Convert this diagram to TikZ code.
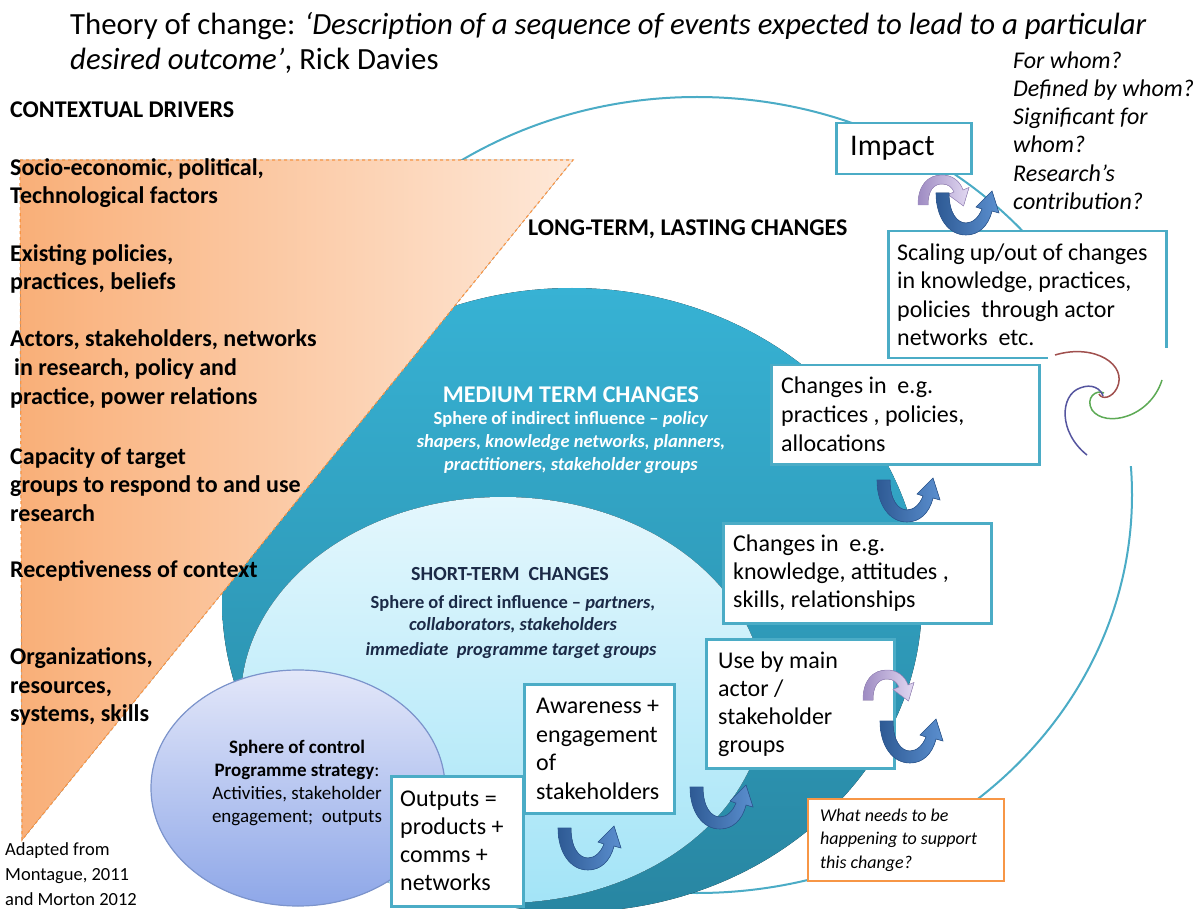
\documentclass[tikz,border=0pt]{standalone}
\usepackage{fontspec}
\setmainfont{Carlito}
\usetikzlibrary{calc}
\definecolor{tealline}{HTML}{4BACC6}
\definecolor{tealtop}{HTML}{37B2D4}
\definecolor{tealbot}{HTML}{2886A2}
\definecolor{lighttop}{HTML}{E4F7FD}
\definecolor{lightbot}{HTML}{A3E4F7}
\definecolor{soctop}{HTML}{E3E7F9}
\definecolor{socbot}{HTML}{8EA7E8}
\definecolor{socline}{HTML}{7C94CC}
\definecolor{orL}{HTML}{F9AF78}
\definecolor{orR}{HTML}{FEE8D8}
\definecolor{orline}{HTML}{F79646}
\definecolor{navy}{HTML}{1B2A47}
\definecolor{uDark}{HTML}{2E5A94}
\definecolor{uLight}{HTML}{5B8FCF}
\definecolor{pDark}{HTML}{9E8BC2}
\definecolor{pLight}{HTML}{E2D9F2}
\definecolor{spRed}{HTML}{A0504E}
\definecolor{spGreen}{HTML}{5DAA55}
\definecolor{spPurple}{HTML}{55559F}
\newcommand\myfs[2]{\fontsize{#1}{#2}\selectfont}
\tikzset{
  lbl/.style={inner sep=0pt, align=left, anchor=west, text=black},
  ctr/.style={inner sep=0pt, align=center},
  tbox/.style={draw=tealline, line width=2.5pt, fill=white, inner sep=0pt, anchor=north west},
  obox/.style={draw=orline, line width=2.2pt, fill=white, inner sep=0pt, anchor=north west},
  boxtext/.style={inner sep=0pt, align=left, anchor=west, text=black, font=\myfs{24}{28.3}},
  uarrow/.pic={
    \filldraw[draw=uDark, line width=0.6pt, left color=uDark, right color=uLight]
      (-30,-42) -- (-17,-42)
      .. controls (-17,-22) and (-9,-12) .. (0,-12)
      .. controls (7,-12) and (13,-18) .. (16,-26)
      -- (10,-28) -- (26,-44) -- (33,-22) -- (26,-24)
      .. controls (22,-8) and (12,0) .. (0,0)
      .. controls (-18,0) and (-30,-18) .. (-30,-42) -- cycle;
  },
  parc/.pic={
    \filldraw[draw=pDark, line width=0.5pt, left color=pDark, right color=pLight]
      (-24,30) -- (-14,30)
      .. controls (-14,15) and (-8,9) .. (0,9)
      .. controls (6,9) and (10,12) .. (12,17)
      -- (6,19.5) -- (21.5,31) -- (27,12.5) -- (21,15)
      .. controls (18,6) and (10,0) .. (0,0)
      .. controls (-14,0) and (-24,10) .. (-24,30) -- cycle;
  }
}
\begin{document}
\begin{tikzpicture}[x=1pt,y=-1pt]
\useasboundingbox (0,0) rectangle (1203,909);
\clip (0,0) rectangle (1203,909);
\fill[white] (0,0) rectangle (1203,909);

% outer sphere
\draw[tealline, line width=2pt] (697,495) ellipse [x radius=435pt, y radius=398pt];
% medium-term sphere
\fill[top color=tealtop, bottom color=tealbot] (572,600) ellipse [x radius=350pt, y radius=312pt];
% short-term sphere
\fill[top color=lighttop, bottom color=lightbot] (503,700) ellipse [x radius=262pt, y radius=203pt];
% contextual triangle
\fill[left color=orL, right color=orR] (20,160) -- (573,160) -- (22,840) -- cycle;
\draw[orline, line width=1.2pt, dashed] (20,160) -- (573,160) -- (22,840) -- cycle;
% sphere of control
\filldraw[draw=socline, line width=1.2pt, top color=soctop, bottom color=socbot] (298,788) ellipse [x radius=147pt, y radius=118pt];

% title
\node[lbl, font=\myfs{30.8}{35}] (title) at (70,42.5) {Theory of change: \textit{‘Description of a sequence of events expected to lead to a particular}\\\textit{desired outcome’}, Rick Davies};
\node[lbl, font=\itshape\myfs{24}{28.2}] (quest) at (1013,130.5) {For whom?\\Defined by whom?\\Significant for\\whom?\\Research’s\\contribution?};

% left drivers
\node[lbl, font=\bfseries\myfs{24}{28.7}] (cd) at (10,110) {CONTEXTUAL DRIVERS};
\node[lbl, font=\bfseries\myfs{24}{28.7}] (g1) at (10,183) {Socio-economic, political,\\Technological factors};
\node[lbl, font=\bfseries\myfs{24}{28.7}] (g2) at (10,269) {Existing policies,\\practices, beliefs};
\node[lbl, font=\bfseries\myfs{24}{28.7}] (g3) at (10,369) {Actors, stakeholders, networks\\\hspace*{4pt}in research, policy and\\practice, power relations};
\node[lbl, font=\bfseries\myfs{24}{28.7}] (g4) at (10,484.5) {Capacity of target\\groups to respond to and use\\research};
\node[lbl, font=\bfseries\myfs{24}{28.7}] (g5) at (10,571) {Receptiveness of context};
\node[lbl, font=\bfseries\myfs{24}{28.7}] (g6) at (10,686.5) {Organizations,\\resources,\\systems, skills};
\node[lbl, font=\myfs{18.5}{25}] (adapt) at (5,874) {Adapted from\\Montague, 2011\\and Morton 2012};

% sphere labels
\node[lbl, font=\bfseries\myfs{24}{28}] (lt) at (528,229) {LONG-TERM, LASTING CHANGES};
\node[ctr, font=\bfseries\myfs{24}{28}, text=white] (mt) at (571,395) {MEDIUM TERM CHANGES};
\node[ctr, font=\bfseries\myfs{18.5}{23}, text=white] (mtsub) at (571,443) {Sphere of indirect influence – \textit{policy}\\\textit{shapers, knowledge networks, planners,}\\\textit{practitioners, stakeholder groups}};
\node[ctr, font=\bfseries\myfs{20}{24}, text=navy] (st) at (510,574) {SHORT-TERM\ \ CHANGES};
\node[ctr, font=\bfseries\myfs{18.5}{22}, text=navy] (stsub) at (513,614) {Sphere of direct influence – \textit{partners,}\\\textit{collaborators, stakeholders}};
\node[ctr, font=\bfseries\itshape\myfs{18.5}{22}, text=navy] (stsub2) at (511,651) {immediate\ \ programme target groups};
\node[ctr, font=\myfs{19}{23.3}] (soc) at (297,783) {\textbf{Sphere of control}\\\textbf{Programme strategy}:\\Activities, stakeholder\\engagement;\ \ outputs};

% boxes
\node[tbox, minimum width=135pt, minimum height=51pt] (impact) at (835,122) {};
\node[boxtext, font=\myfs{30}{34}] (impactt) at ([xshift=15pt]impact.west) {Impact};
\node[tbox, minimum width=278pt, minimum height=127pt] (scal) at (887,230) {};
\node[boxtext] (scalt) at ([xshift=10pt]scal.west) {Scaling up/out of changes\\in knowledge, practices,\\policies\ \ through actor\\networks\ \ etc.};
\node[tbox, minimum width=268pt, minimum height=99pt] (prac) at (770,364) {};
\node[boxtext, font=\myfs{24}{29}] (pract) at ([xshift=11pt]prac.west) {Changes in\ \ e.g.\\practices , policies,\\allocations};
\node[tbox, minimum width=268pt, minimum height=100pt] (know) at (722,522) {};
\node[boxtext, font=\myfs{24}{28}] (knowt) at ([xshift=11pt]know.west) {Changes in\ \ e.g.\\knowledge, attitudes ,\\skills, relationships};
\node[tbox, minimum width=188pt, minimum height=129pt] (use) at (705,638) {};
\node[boxtext, font=\myfs{24}{28}] (uset) at ([xshift=13pt]use.west) {Use by main\\actor /\\stakeholder\\groups};
\node[tbox, minimum width=150pt, minimum height=129pt] (aware) at (523,683) {};
\node[boxtext, font=\myfs{24}{28.7}] (awaret) at ([xshift=13pt]aware.west) {Awareness +\\engagement\\of\\stakeholders};
\node[tbox, minimum width=132pt, minimum height=130pt] (outp) at (390,775) {};
\node[boxtext, font=\myfs{24}{28}] (outpt) at ([xshift=10pt]outp.west) {Outputs =\\products +\\comms +\\networks};
\node[obox, minimum width=196pt, minimum height=82pt] (need) at (807,798) {};
\node[boxtext, font=\itshape\myfs{18}{23.5}] (needt) at ([xshift=13pt]need.west) {What needs to be\\happening to support\\this change?};

% spiral
\fill[white] (1048,348) rectangle (1172,466);
\draw[spRed, line width=1.5pt] (1055,355) .. controls (1095,343) and (1128,365) .. (1117,388) .. controls (1112,398) and (1102,400) .. (1099,394);
\draw[spGreen, line width=1.5pt] (1162,380) .. controls (1150,418) and (1105,428) .. (1092,410) .. controls (1085,398) and (1096,389) .. (1104,393);
\draw[spPurple, line width=1.5pt] (1087,455) .. controls (1058,432) and (1060,395) .. (1080,388) .. controls (1092,383) and (1101,389) .. (1103,396);

% cycle arrows
\pic at (942,175) {parc};
\pic at (966,235) {uarrow};
\pic at (907,522) {uarrow};
\pic at (887,670) {parc};
\pic at (910,763) {uarrow};
\pic at (720,829) {uarrow};
\pic at (588,870) {uarrow};
\end{tikzpicture}
\end{document}
